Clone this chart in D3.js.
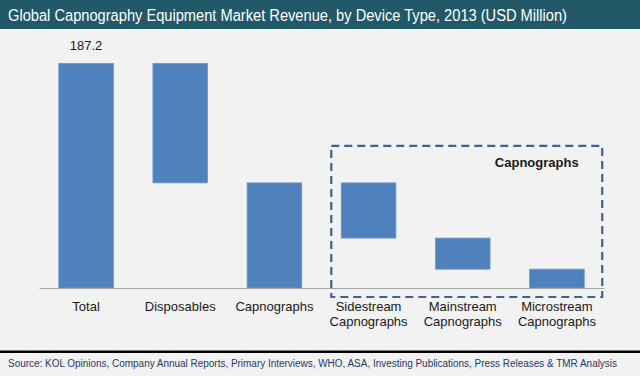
<!DOCTYPE html>
<html><head><meta charset="utf-8">
<script src="https://cdn.jsdelivr.net/npm/d3@7"></script>
<style>html,body{margin:0;padding:0;background:#f2f2f2;}svg{display:block;}</style>
</head><body>
<svg id="chart" width="640" height="376"></svg>
<script>
const categories = ["Total", "Disposables", "Capnographs", "Sidestream Capnographs", "Mainstream Capnographs", "Microstream Capnographs"];
const tickLabels = [["Total"], ["Disposables"], ["Capnographs"], ["Sidestream", "Capnographs"], ["Mainstream", "Capnographs"], ["Microstream", "Capnographs"]];
const values = [187.2, 99.6, 87.6, 46.0, 25.9, 15.7];
const kinds = ["total", "step", "total", "step", "step", "step"];
const totalLabel = "187.2";
const groupLabel = "Capnographs";
const titleText = "Global Capnography Equipment Market Revenue, by Device Type, 2013 (USD Million)";
const sourceText = "Source: KOL Opinions, Company Annual Reports, Primary Interviews, WHO, ASA, Investing Publications, Press Releases & TMR Analysis";

const svg = d3.select("#chart");
svg.append("rect").attr("width", 640).attr("height", 376).attr("fill", "#f2f2f2");

// title bar
svg.append("rect").attr("x", 0).attr("y", 0).attr("width", 640).attr("height", 29).attr("fill", "#215968");
svg.append("text").attr("x", 8).attr("y", 21).attr("fill", "#ffffff")
  .attr("font-family", "Liberation Sans, Arial, sans-serif").attr("font-size", 16)
  .attr("textLength", 559).attr("lengthAdjust", "spacingAndGlyphs").text(titleText);

// waterfall computation
let running = 0;
const bars = categories.map((c, i) => {
  let y0, y1;
  if (kinds[i] === "total") { y0 = 0; y1 = values[i]; running = values[i]; }
  else { y1 = running; y0 = running - values[i]; running = y0; }
  return {c, y0, y1, v: values[i]};
});

const x = d3.scaleBand().domain(categories).range([39, 604]).paddingInner(0.42).paddingOuter(0.21);
const y = d3.scaleLinear().domain([0, 200]).range([288, 48]);

svg.append("g").selectAll("rect").data(bars).join("rect")
  .attr("x", d => x(d.c)).attr("width", x.bandwidth())
  .attr("y", d => y(d.y1)).attr("height", d => y(d.y0) - y(d.y1))
  .attr("fill", "#4f81bd").attr("stroke", "#6f97cb").attr("stroke-width", 0.8);

// axis line
const xAxis = d3.axisBottom(x).tickSize(0).tickFormat("");
const ax = svg.append("g").attr("transform", "translate(0,288)").call(xAxis);
ax.select(".domain").attr("stroke", "#a6a6a6").attr("stroke-width", 1.2);

// tick labels
const lbl = svg.append("g").attr("font-family", "Liberation Sans, Arial, sans-serif").attr("font-size", 13).attr("fill", "#1a1a1a").attr("text-anchor", "middle");
categories.forEach((c, i) => {
  const t = lbl.append("text").attr("x", x(c) + x.bandwidth() / 2).attr("y", 311);
  tickLabels[i].forEach((s, j) => t.append("tspan").attr("x", x(c) + x.bandwidth() / 2).attr("dy", j === 0 ? 0 : 14.5).text(s));
});

// total value label
svg.append("text").attr("x", x(categories[0]) + x.bandwidth() / 2).attr("y", y(values[0]) - 13)
  .attr("text-anchor", "middle").attr("font-family", "Liberation Sans, Arial, sans-serif").attr("font-size", 13).attr("fill", "#1a1a1a").text(totalLabel);

// dashed group box
const bx0 = x(categories[3]) - 10, bx1 = x(categories[5]) + x.bandwidth() + 18;
const by0 = y(bars[3].y1) - 37, by1 = 297;
svg.append("rect").attr("x", bx0).attr("y", by0).attr("width", bx1 - bx0).attr("height", by1 - by0)
  .attr("fill", "none").attr("stroke", "#3f6290").attr("stroke-width", 2.2).attr("stroke-dasharray", "8,5");
svg.append("text").attr("x", (bx0 + bx1) / 2 + 70).attr("y", by0 + 21).attr("text-anchor", "middle")
  .attr("font-family", "Liberation Sans, Arial, sans-serif").attr("font-size", 13).attr("font-weight", "bold").attr("fill", "#1a1a1a").text(groupLabel);

// bottom line and source
svg.append("rect").attr("x", 0).attr("y", 350.5).attr("width", 640).attr("height", 2.5).attr("fill", "#000000");
svg.append("text").attr("x", 8).attr("y", 367).attr("fill", "#1f3864")
  .attr("font-family", "Liberation Sans, Arial, sans-serif").attr("font-size", 10)
  .attr("textLength", 609).attr("lengthAdjust", "spacingAndGlyphs").text(sourceText);
</script>
</body></html>
